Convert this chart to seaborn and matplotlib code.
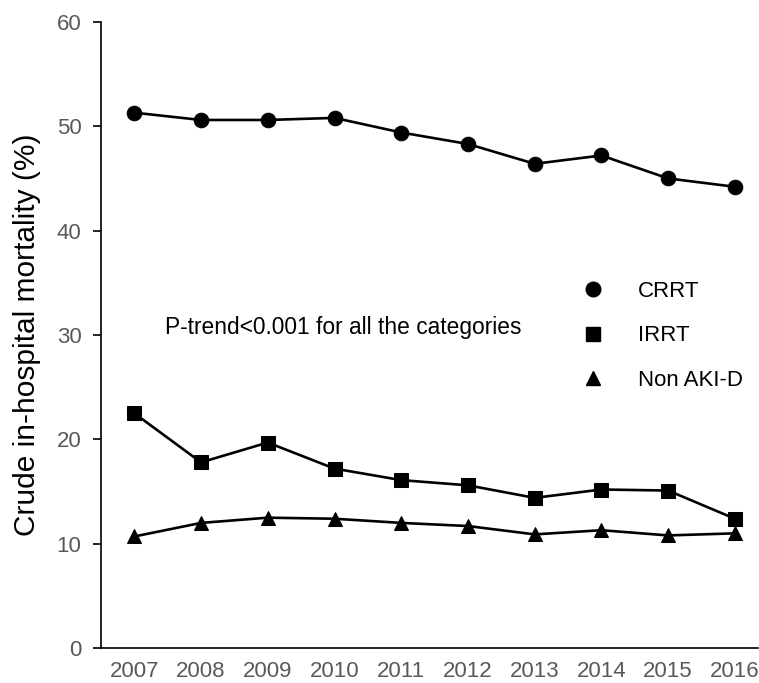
import matplotlib
matplotlib.use("Agg")
import matplotlib.pyplot as plt
import seaborn as sns
import pandas as pd
import numpy as np
from matplotlib.lines import Line2D

years = ["2007", "2008", "2009", "2010", "2011", "2012", "2013", "2014", "2015", "2016"]
crrt = [51.3, 50.6, 50.6, 50.8, 49.4, 48.3, 46.4, 47.2, 45.0, 44.2]
irrt = [22.5, 17.8, 19.7, 17.2, 16.1, 15.6, 14.4, 15.2, 15.1, 12.4]
non_akid = [10.7, 12.0, 12.5, 12.4, 12.0, 11.7, 10.9, 11.3, 10.8, 11.0]
series_names = ["CRRT", "IRRT", "Non AKI-D"]
y_ticks = [0, 10, 20, 30, 40, 50, 60]

sns.set_theme(style="white")
plt.rcParams['font.family'] = ['Liberation Sans', 'DejaVu Sans']

pos = list(range(len(years)))
df = pd.DataFrame({
    "pos": pos * 3,
    "value": crrt + irrt + non_akid,
    "series": [s for s in series_names for _ in years],
})

fig = plt.figure(figsize=(7.59, 6.83), dpi=100)
ax = fig.add_axes([0.133, 0.051, 0.866, 0.917])

markers = {"CRRT": "o", "IRRT": "s", "Non AKI-D": "^"}
msizes = {"CRRT": 10.5, "IRRT": 10, "Non AKI-D": 10.5}
for s in series_names:
    sub = df[df["series"] == s]
    sns.lineplot(data=sub, x="pos", y="value", ax=ax, color="black", lw=1.9,
                 marker=markers[s], markersize=msizes[s], markeredgecolor="black",
                 markerfacecolor="black", legend=False)

tick_fs = 16
ax.set_xlim(-0.5, 9.35)
ax.set_ylim(0, 60)
ax.set_yticks(y_ticks)
ax.set_yticklabels([str(t) for t in y_ticks], color="#595959", fontsize=tick_fs)
ax.set_xticks(np.arange(-0.5, 9.0, 1.0))
ax.set_xticklabels([])
ax.set_xticks(pos, minor=True)
ax.set_xticklabels(years, minor=True, color="#595959", fontsize=tick_fs)
ax.tick_params(axis="x", which="major", direction="out", length=6, width=1.2, color="black")
ax.tick_params(axis="x", which="minor", length=0, pad=9)
ax.tick_params(axis="y", direction="out", length=6, width=1.2, color="black", left=True, pad=8)
ax.set_xlabel("")
ax.set_ylabel("Crude in-hospital mortality (%)", fontsize=21.5, color="black", labelpad=11)

for side in ["top", "right"]:
    ax.spines[side].set_visible(False)
for side in ["left", "bottom"]:
    ax.spines[side].set_color("black")
    ax.spines[side].set_linewidth(1.2)

ax.text(0.46, 30.7, "P-trend<0.001 for all the categories", fontsize=16.4,
        color="black", va="center", ha="left")

handles = [Line2D([], [], linestyle="none", marker=markers[s], markersize=msizes[s],
                  color="black") for s in series_names]
ax.legend(handles, series_names, loc="upper left", bbox_to_anchor=(0.698, 0.618),
          frameon=False, fontsize=16, handletextpad=1.4, labelspacing=1.05,
          handlelength=1.2, labelcolor="black")

fig.savefig("out.png", dpi=100)
